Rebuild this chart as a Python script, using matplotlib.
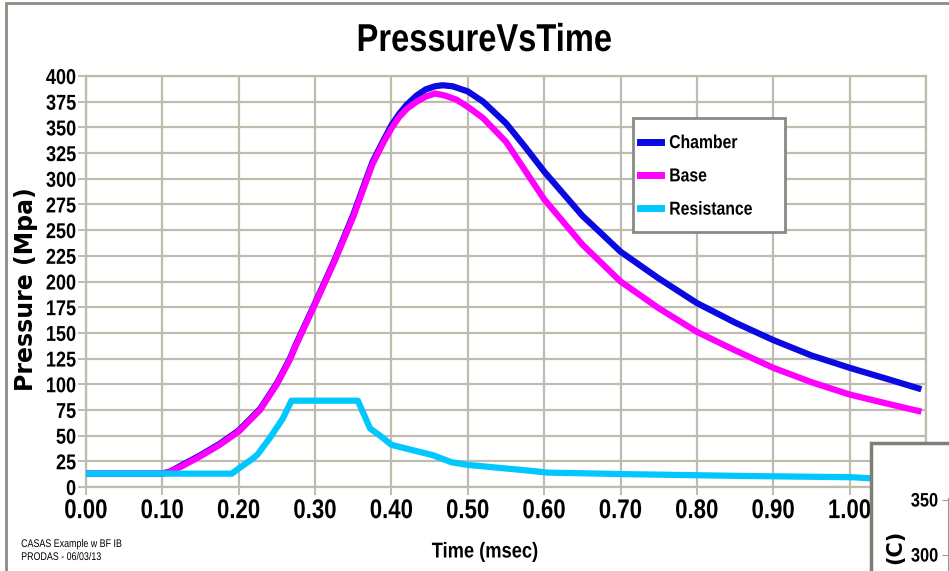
import matplotlib
matplotlib.use("Agg")
import matplotlib.pyplot as plt
from matplotlib.patches import Rectangle
from matplotlib.patheffects import AbstractPathEffect
from matplotlib.transforms import Affine2D

# series (time in msec, pressure in MPa)
t_chamber = [0.00, 0.05, 0.10, 0.11, 0.125, 0.15, 0.175, 0.20, 0.228, 0.25, 0.267, 0.275,
             0.30, 0.325, 0.35, 0.375, 0.39, 0.40, 0.41, 0.42, 0.433, 0.445, 0.457, 0.467,
             0.48, 0.50, 0.52, 0.55, 0.575, 0.60, 0.65, 0.673, 0.70, 0.75, 0.80, 0.85,
             0.90, 0.95, 1.00, 1.05, 1.09]
p_chamber = [13, 13, 13, 15, 21, 31, 42, 55, 76, 101, 125, 139,
             179, 220, 265, 316, 338, 352, 363, 372, 381, 387, 390, 391,
             390, 385, 375, 354, 331, 307, 264, 248, 229, 203, 179, 160,
             143, 128, 116, 105, 96]

t_base = [0.00, 0.05, 0.10, 0.11, 0.125, 0.15, 0.175, 0.20, 0.228, 0.25, 0.267, 0.275,
          0.30, 0.325, 0.35, 0.375, 0.39, 0.40, 0.41, 0.42, 0.433, 0.445, 0.457, 0.47,
          0.485, 0.50, 0.52, 0.55, 0.575, 0.60, 0.65, 0.70, 0.75, 0.80, 0.85,
          0.90, 0.95, 1.00, 1.05, 1.09]
p_base = [13, 13, 13, 15, 20, 30, 41, 54, 75, 100, 124, 138,
          178, 219, 263, 314, 336, 349, 360, 368, 375, 380, 383, 381,
          377, 370, 359, 336, 308, 280, 236, 200, 174, 151, 133,
          116, 102, 90, 81, 74]

t_resist = [0.00, 0.191, 0.20, 0.219, 0.225, 0.241, 0.258, 0.269, 0.356, 0.372,
            0.385, 0.40, 0.454, 0.479, 0.50, 0.572, 0.605, 0.708, 0.865, 1.004, 1.026, 1.09]
p_resist = [13, 13, 18, 28, 32, 48, 67, 84, 84, 57,
            50, 41, 31, 24, 21.5, 16.5, 14, 12.5, 10.7, 9.5, 8.5, 8.5]

x_ticks = [0.0, 0.1, 0.2, 0.3, 0.4, 0.5, 0.6, 0.7, 0.8, 0.9, 1.0, 1.1]
x_labels = ["0.00", "0.10", "0.20", "0.30", "0.40", "0.50", "0.60", "0.70", "0.80", "0.90", "1.00", ""]
y_ticks = list(range(0, 401, 25))

W, H = 949, 571
font = ["Liberation Sans", "DejaVu Sans"]
grid_col = "#bfbbaf"


class Squeeze(AbstractPathEffect):
    """Draw text horizontally compressed (the original uses a narrow face)."""

    def __init__(self, sx, anchor="center"):
        super().__init__()
        self.sx = sx
        self.anchor = anchor

    def draw_path(self, renderer, gc, tpath, affine, rgbFace=None):
        ext = tpath.get_extents()
        cx = {"left": ext.x0, "center": (ext.x0 + ext.x1) / 2, "right": ext.x1}[self.anchor]
        t = Affine2D().translate(-cx, 0).scale(self.sx, 1).translate(cx, 0) + affine
        renderer.draw_path(gc, tpath, t, rgbFace)


def fx(x):
    return x / W


def fy(y):
    return 1 - y / H


fig = plt.figure(figsize=(W / 100, H / 100), dpi=100)
ax = fig.add_axes([fx(86), fy(487), (926 - 86) / W, (487 - 76) / H])

ax.plot(t_chamber, p_chamber, color="#0a0ae0", lw=4.5, label="Chamber", zorder=3)
ax.plot(t_base, p_base, color="#ff00ff", lw=4.5, label="Base", zorder=4)
ax.plot(t_resist, p_resist, color="#00c8ff", lw=4.5, label="Resistance", zorder=5)

ax.set_xlim(0, 1.1)
ax.set_ylim(0, 400)
ax.set_xticks(x_ticks)
ax.set_xticklabels(x_labels)
ax.set_yticks(y_ticks)
ax.grid(True, color=grid_col, lw=1.6)
ax.set_axisbelow(True)
for s in ax.spines.values():
    s.set_color(grid_col)
    s.set_linewidth(1.6)
ax.tick_params(axis="both", color=grid_col, width=1.4, length=6)
ax.tick_params(axis="y", pad=1)
ax.tick_params(axis="x", pad=2)
for lab in ax.get_yticklabels():
    lab.set_fontfamily(font)
    lab.set_fontweight("bold")
    lab.set_fontsize(15.5)
    lab.set_path_effects([Squeeze(0.84, "right")])
for lab in ax.get_xticklabels():
    lab.set_fontfamily(font)
    lab.set_fontweight("bold")
    lab.set_fontsize(19.5)
    lab.set_path_effects([Squeeze(0.82, "center")])

xl = ax.set_xlabel("Time (msec)", family=font, fontweight="bold", fontsize=15.5, va="center")
xl.set_path_effects([Squeeze(0.85, "center")])
ax.xaxis.set_label_coords((485 - 86) / 840, (487 - 552) / 411)
ax.set_ylabel("Pressure (Mpa)", family="DejaVu Sans", fontweight="bold", fontsize=17, va="center")
ax.yaxis.set_label_coords((26 - 86) / 840, (487 - 289) / 411)

fig.text(fx(484), fy(41), "PressureVsTime", ha="center", va="center",
         family=font, fontweight="bold", fontsize=28,
         path_effects=[Squeeze(0.84, "center")])

# legend box and entries
fig.add_artist(Rectangle((fx(633), fy(232)), (785 - 633) / W, (232 - 118) / H,
                         transform=fig.transFigure, facecolor="white",
                         edgecolor="#8a8a84", lw=2, zorder=6))
handles, labels = ax.get_legend_handles_labels()
leg = fig.legend(handles, labels, loc="upper left", bbox_to_anchor=(fx(640), fy(135)),
                 frameon=False, borderpad=0, borderaxespad=0, handlelength=1.12,
                 handletextpad=0.43, labelspacing=0.86,
                 prop={"family": font, "weight": "bold", "size": 13.5})
leg.set_zorder(7)
for h in leg.legend_handles:
    h.set_linewidth(5)
for txt in leg.get_texts():
    txt.set_path_effects([Squeeze(0.84, "left")])

# footer text
for y, s in [(544, "CASAS Example w BF IB"), (557, "PRODAS - 06/03/13")]:
    fig.text(fx(21), fy(y), s, family=font, fontsize=8, va="center",
             path_effects=[Squeeze(0.8, "left")])

# outer frame of the chart
fig.add_artist(Rectangle((fx(6), fy(700)), 2.0, (700 - 3) / H, transform=fig.transFigure,
                         facecolor="none", edgecolor="#8c8c84", lw=2, zorder=8))

# neighbouring chart panel overlapping in the bottom right corner
fig.add_artist(Rectangle((fx(871), fy(700)), 0.5, (700 - 443) / H, transform=fig.transFigure,
                         facecolor="white", edgecolor="#7f7f78", lw=2.5, zorder=9))
ax2 = fig.add_axes([fx(948), 0, 0.05, (571 - 498) / H], zorder=10)
ax2.set_facecolor("none")
ax2.set_ylim(285.5, 351.8)
ax2.set_yticks([300, 350])
ax2.set_xticks([])
for k in ["top", "right", "bottom"]:
    ax2.spines[k].set_visible(False)
ax2.spines["left"].set_color("#9a9a94")
ax2.tick_params(axis="y", color="#9a9a94", length=4, pad=3)
for lab in ax2.get_yticklabels():
    lab.set_fontfamily(font)
    lab.set_fontweight("bold")
    lab.set_fontsize(14)
    lab.set_path_effects([Squeeze(0.84, "right")])
fig.text(fx(895), fy(547), "(C)", rotation=90, ha="center", va="center",
         family="DejaVu Sans", fontweight="bold", fontsize=15, zorder=11)

fig.savefig("out.png", dpi=100)
